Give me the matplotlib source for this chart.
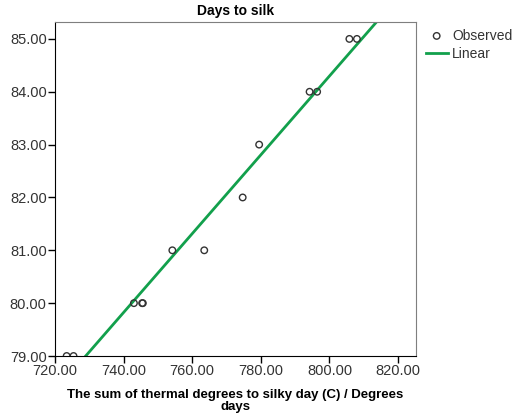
import numpy as np
import matplotlib
matplotlib.use('Agg')
import matplotlib.pyplot as plt

thermal = [723.4, 725.4, 743.0, 745.4, 745.6, 754.2, 763.5, 774.7, 779.5, 794.2, 796.4, 805.8, 808.0]
days = [79, 79, 80, 80, 80, 81, 81, 82, 83, 84, 84, 85, 85]
xticks = [720, 740, 760, 780, 800, 820]
yticks = [79, 80, 81, 82, 83, 84, 85]

plt.rcParams['font.family'] = ['Liberation Sans', 'DejaVu Sans']

fig = plt.figure(figsize=(5.18, 4.16), dpi=100)
ax = fig.add_axes([55/518, 1 - 356/416, (415.6 - 55)/518, (356 - 22)/416])

# linear fit
b, a = np.polyfit(thermal, days, 1)
xl = np.array([700, 840])
ax.plot(xl, a + b * xl, color='#12a04c', lw=2, zorder=2, label='Linear')
ax.scatter(thermal, days, s=22, facecolors='none', edgecolors='#333333',
           linewidths=1.0, zorder=3, clip_on=True, label='Observed')

ax.set_xlim(720, 825.1)
ax.set_ylim(79, 85.32)
ax.set_xticks(xticks)
ax.set_yticks(yticks)
ax.set_xticklabels(['%.2f' % v for v in xticks])
ax.set_yticklabels(['%.2f' % v for v in yticks])
ax.tick_params(direction='out', length=5, width=1, colors='black', labelsize=10.5,
               labelcolor='#333333', pad=1)
for s in ['top', 'right']:
    ax.spines[s].set_color('#7f7f7f')
for s in ['left', 'bottom']:
    ax.spines[s].set_color('black')

ax.set_title('Days to silk', fontsize=10, fontweight='bold', pad=5)
ax.set_xlabel('The sum of thermal degrees to silky day (C) / Degrees\ndays',
              fontsize=9.5, fontweight='bold', labelpad=8, linespacing=0.9)

h, l = ax.get_legend_handles_labels()
fig.legend(h[::-1], l[::-1], loc='upper left', bbox_to_anchor=(420/518, 1 - 23/416),
           frameon=False, fontsize=10, handlelength=1.6, handletextpad=0.3,
           borderaxespad=0, labelspacing=0.3, labelcolor='#333333')

fig.savefig('out.png', dpi=100)
